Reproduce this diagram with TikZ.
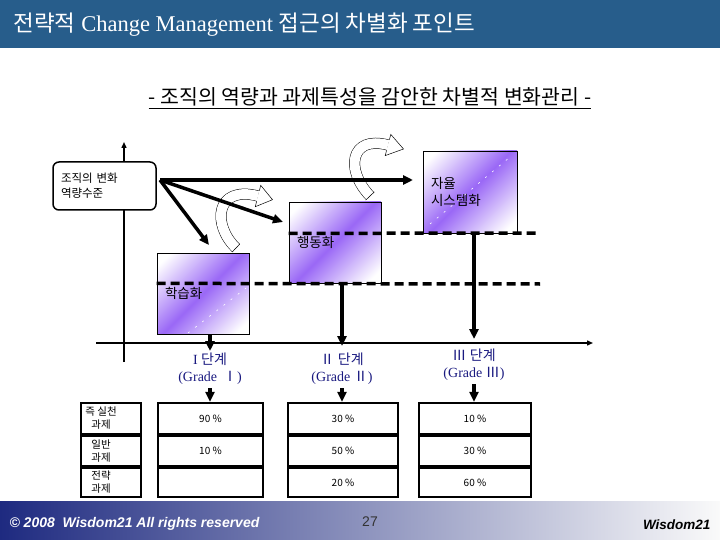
\documentclass[tikz,border=0pt]{standalone}
\usepackage{fontspec}
\setmainfont{Liberation Serif}
\newfontfamily\kr{Noto Sans CJK KR}
\newfontfamily\arial{Liberation Sans}
\usetikzlibrary{arrows.meta,positioning,shadings}
\definecolor{titleblue}{HTML}{275D8B}
\definecolor{boxviolet}{HTML}{9A68F6}
\definecolor{stagenavy}{HTML}{1A1A80}
\definecolor{footnavy}{HTML}{1E2A80}
\definecolor{footgray}{HTML}{A3A6C6}
\pgfdeclarehorizontalshading{vband}{100bp}{color(0bp)=(white); color(20bp)=(white);
  color(50bp)=(boxviolet); color(80bp)=(white); color(100bp)=(white)}

\begin{document}
\begin{tikzpicture}[x=1pt,y=-1pt,
    gradbox/.style={draw,line width=0.8pt,shading=vband,shading angle=-45,
      minimum width=92pt,minimum height=81pt,inner sep=0pt,align=left,text width=76pt,
      font=\kr\fontsize{13.5}{17}\selectfont},
    bigarrow/.style={line width=3.5pt,-{Triangle[length=10pt,width=9pt]}},
    axisline/.style={line width=1.4pt,-{Triangle[length=6pt,width=5pt]}},
    dashline/.style={line width=3.5pt,dash pattern=on 9pt off 5pt},
    hollow/.style={double=white,double distance=10pt,line width=0.5pt},
    cell/.style={draw,line width=2.2pt,inner sep=0pt,font=\kr\fontsize{10}{13}\selectfont},
    stage/.style={align=center,text=stagenavy,font=\fontsize{14}{17}\selectfont}]
  \useasboundingbox (0,0) rectangle (720,540);

  % title bar
  \fill[titleblue] (0,0) rectangle (720,48);
  \node[anchor=west,text=white,font=\fontsize{22.5}{26}\selectfont] (title) at (10,25)
    {{\kr 전략적} Change Management {\kr 접근의 차별화 포인트}};
  \node[inner sep=0pt,font=\kr\fontsize{20.5}{24}\selectfont] (sub) at (370,97)
    {- 조직의 역량과 과제특성을 감안한 차별적 변화관리 -};
  \draw[line width=1.5pt] ([yshift=-2pt]sub.south west) -- ([yshift=-2pt]sub.south east);

  % axes
  \coordinate (yBot) at (124,362);
  \coordinate (yTop) at (124,142);
  \coordinate (xLeft) at (96,343);
  \coordinate (xRight) at (593,343);
  \draw[axisline] (yBot) -- (yTop);
  \draw[axisline] (xLeft) -- (xRight);

  % hollow curved arrows
  \draw[hollow] (370,196) .. controls (345,170) and (350,135) .. (388,145);
  \draw[line width=0.5pt] (365.7,200.1) -- (374.3,191.9);
  \fill[white] (390.8,134.4) -- (403.5,149) -- (385.2,155.6) -- cycle;
  \draw[line width=0.5pt] (389.4,139.7) -- (390.8,134.4) -- (403.5,149) -- (385.2,155.6) -- (386.6,150.3);
  \draw[hollow] (236,248) .. controls (212,225) and (215,185) .. (258,196);
  \draw[line width=0.5pt] (232.2,252) -- (239.8,244);
  \fill[white] (260.7,185.3) -- (272.5,199.7) -- (255.3,206.7) -- cycle;
  \draw[line width=0.5pt] (259.4,190.7) -- (260.7,185.3) -- (272.5,199.7) -- (255.3,206.7) -- (256.6,201.3);

  % level boxes
  \node[draw,fill=white,rounded corners=6pt,line width=1.5pt,minimum width=103pt,minimum height=48pt,
    align=left,text width=87pt,inner sep=0pt,font=\kr\fontsize{11.5}{15}\selectfont] (lvl) at (104.5,186)
    {조직의 변화\\역량수준};
  \node[gradbox,minimum width=94pt,minimum height=82pt,text width=78pt] (sys) at (470,192) {자율\\시스템화};
  \node[gradbox] (act) at (335,242.5) {행동화};
  \node[gradbox] (learn) at (203,293.5) {학습화};
  \draw[white,line width=0.6pt,dash pattern=on 2pt off 7pt] (430,224) -- (510,157);
  \draw[white,line width=0.6pt,dash pattern=on 2pt off 7pt] (188,333) -- (246,288);

  % change arrows
  \coordinate (src) at (160,180);
  \coordinate (hEnd) at (413,180);
  \coordinate (mEnd) at (283,222);
  \coordinate (lEnd) at (209,245);
  \draw[bigarrow] (src) -- (hEnd);
  \draw[bigarrow] (src) -- (mEnd);
  \draw[bigarrow] (src) -- (lEnd);

  % thresholds
  \draw[dashline] (act.west |- sys.south) -- (540,233);
  \draw[dashline] (learn.west |- act.south) -- (540,284);

  % drops to the axis
  \coordinate (c1) at (210,351);
  \coordinate (c2) at (342,346);
  \coordinate (c3) at (474,339);
  \draw[bigarrow] (c1 |- learn.south) -- (c1);
  \draw[bigarrow] (c2 |- act.south) -- (c2);
  \draw[bigarrow] (c3 |- sys.south) -- (c3);

  % stages
  \node[stage] (st1) at (210,369) {I {\kr 단계}\\(Grade\, {\kr Ⅰ})};
  \node[stage] (st2) at (342,369) {{\kr Ⅱ} {\kr 단계}\\(Grade {\kr Ⅱ})};
  \node[stage] (st3) at (474,365) {{\kr Ⅲ} {\kr 단계}\\(Grade {\kr Ⅲ})};

  % table
  \node[cell,minimum width=60pt,minimum height=31pt] (L1) at (111,418.5) {};
  \node[cell,minimum width=60pt,minimum height=30pt] (L2) at (111,451) {};
  \node[cell,minimum width=60pt,minimum height=29pt] (L3) at (111,482.5) {};
  \node[align=center,font=\kr\fontsize{10.5}{13}\selectfont] (l1) at (101,418.5) {즉 실천\\과제};
  \node[align=center,font=\kr\fontsize{10.5}{13}\selectfont] (l2) at (101,451) {일반\\과제};
  \node[align=center,font=\kr\fontsize{10.5}{13}\selectfont] (l3) at (101,482.5) {전략\\과제};
  \node[cell,minimum width=105pt,minimum height=31pt] (A1) at (210.5,418.5) {90 \%};
  \node[cell,minimum width=105pt,minimum height=30pt] (A2) at (210.5,451) {10 \%};
  \node[cell,minimum width=105pt,minimum height=29pt] (A3) at (210.5,482.5) {};
  \node[cell,minimum width=110pt,minimum height=31pt] (B1) at (343,418.5) {30 \%};
  \node[cell,minimum width=110pt,minimum height=30pt] (B2) at (343,451) {50 \%};
  \node[cell,minimum width=110pt,minimum height=29pt] (B3) at (343,482.5) {20 \%};
  \node[cell,minimum width=112pt,minimum height=31pt] (C1) at (475,418.5) {10 \%};
  \node[cell,minimum width=112pt,minimum height=30pt] (C2) at (475,451) {30 \%};
  \node[cell,minimum width=112pt,minimum height=29pt] (C3) at (475,482.5) {60 \%};
  \draw[bigarrow] (st1.south) -- (st1.south |- A1.north);
  \draw[bigarrow] (st2.south) -- (st2.south |- B1.north);
  \draw[bigarrow] (st3.south) -- (st3.south |- C1.north);

  % footer
  \shade[left color=footnavy,middle color=footgray,right color=white!96!gray] (0,501) rectangle (720,540);
  \node[anchor=west,text=white,font=\arial\bfseries\itshape\fontsize{14}{16}\selectfont] (copy) at (6,524)
    {\char"00A9\ 2008\ \ Wisdom21 All rights reserved};
  \node[text=black!80,font=\arial\fontsize{14}{16}\selectfont] (page) at (370,522) {27};
  \node[anchor=east,font=\arial\bfseries\itshape\fontsize{13.5}{15}\selectfont] (brand) at (714,525) {Wisdom21};
\end{tikzpicture}
\end{document}
